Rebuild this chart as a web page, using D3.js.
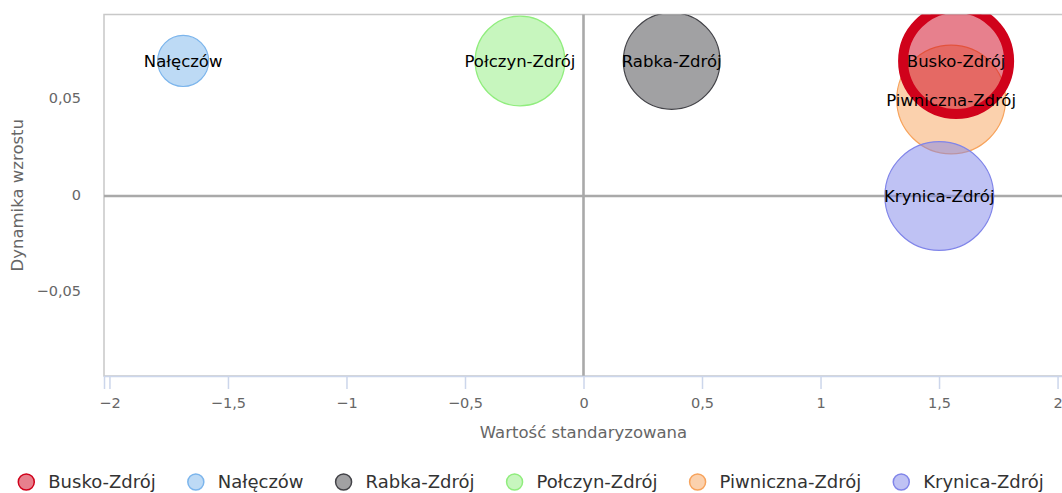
<!DOCTYPE html>
<html>
<head>
<meta charset="utf-8">
<script src="https://cdn.jsdelivr.net/npm/d3@7"></script>
<style>
  html, body { margin: 0; padding: 0; background: #fff; }
  svg { display: block; font-family: "DejaVu Sans", sans-serif; }
</style>
</head>
<body>
<svg id="chart" width="1062" height="493"></svg>
<script>
// ---- data ----
const cities   = ["Busko-Zdrój", "Nałęczów", "Rabka-Zdrój", "Połczyn-Zdrój", "Piwniczna-Zdrój", "Krynica-Zdrój"];
const xValues  = [1.572, -1.689, 0.372, -0.268, 1.551, 1.501];   // Wartość standaryzowana
const yValues  = [0.07, 0.07, 0.07, 0.07, 0.05, 0.0];            // Dynamika wzrostu
const zValues  = [95, 22, 79, 68, 100, 100];                      // bubble size
const colors   = ["#d0021b", "#7cb5ec", "#434348", "#90ed7d", "#f7a35c", "#8085e9"];
const xTicks   = [-2, -1.5, -1, -0.5, 0, 0.5, 1, 1.5, 2];
const yTicks   = [-0.05, 0, 0.05];
const xTitle   = "Wartość standaryzowana";
const yTitle   = "Dynamika wzrostu";

// ---- layout ----
const W = 1062, H = 493;
const plot = { left: 104, top: 14.5, right: 1063, bottom: 376 };
const svg = d3.select("#chart");

const x = d3.scaleLinear().domain([-2.023, 2.023]).range([plot.left, plot.right]);
const y = d3.scaleLinear().domain([-0.0933, 0.0941]).range([plot.bottom, plot.top]);
const r = d3.scaleSqrt().domain([0, 100]).range([0, 54.4]);

const fmt = v => {
  let s = d3.format("")(+v.toFixed(3)).replace(".", ",");
  return s.replace("-", "\u2212");
};

// clip
svg.append("defs").append("clipPath").attr("id", "clip")
  .append("rect").attr("x", plot.left).attr("y", plot.top)
  .attr("width", plot.right - plot.left).attr("height", plot.bottom - plot.top);

// plot border
svg.append("rect")
  .attr("x", plot.left).attr("y", plot.top)
  .attr("width", plot.right - plot.left).attr("height", plot.bottom - plot.top)
  .attr("fill", "none").attr("stroke", "#c8c8c8").attr("stroke-width", 1.5);

// zero lines
svg.append("line")
  .attr("x1", x(0)).attr("x2", x(0)).attr("y1", plot.top).attr("y2", plot.bottom)
  .attr("stroke", "#a9a9a9").attr("stroke-width", 2.6);
svg.append("line")
  .attr("x1", plot.left).attr("x2", plot.right).attr("y1", y(0)).attr("y2", y(0))
  .attr("stroke", "#a9a9a9").attr("stroke-width", 2.6);

// x axis
const xAxis = d3.axisBottom(x).tickValues(xTicks).tickSize(13).tickPadding(6).tickFormat(fmt);
const gx = svg.append("g").attr("transform", `translate(0,${plot.bottom})`).call(xAxis);
gx.select(".domain").attr("stroke", "#ccd6eb").attr("stroke-width", 1.5);
gx.selectAll(".tick line").attr("stroke", "#ccd6eb").attr("stroke-width", 1.5);
gx.selectAll(".tick text").attr("fill", "#666").attr("font-size", "14.5px")
  .attr("font-family", "DejaVu Sans").attr("dy", "0.9em");

// y axis (labels only)
const yAxis = d3.axisLeft(y).tickValues(yTicks).tickSize(0).tickPadding(23).tickFormat(fmt);
const gy = svg.append("g").attr("transform", `translate(${plot.left},0)`).call(yAxis);
gy.select(".domain").remove();
gy.selectAll(".tick text").attr("fill", "#666").attr("font-size", "14.5px")
  .attr("font-family", "DejaVu Sans").attr("dy", "0.22em");

// axis titles
svg.append("text").attr("x", x(0)).attr("y", 432).attr("text-anchor", "middle")
  .attr("dominant-baseline", "central")
  .attr("fill", "#666").attr("font-size", "16.5px").text(xTitle);
svg.append("text").attr("transform", `translate(17.5,${(plot.top + plot.bottom) / 2}) rotate(-90)`)
  .attr("text-anchor", "middle").attr("dominant-baseline", "central")
  .attr("fill", "#666").attr("font-size", "16.5px").text(yTitle);

// bubbles
const data = cities.map((c, i) => ({ name: c, x: xValues[i], y: yValues[i], z: zValues[i], color: colors[i], i }));
const drawOrder = data.slice(1).concat([data[0]]); // highlighted Busko-Zdrój on top
const gb = svg.append("g").attr("clip-path", "url(#clip)");
gb.selectAll("circle").data(drawOrder).join("circle")
  .attr("cx", d => x(d.x)).attr("cy", d => y(d.y)).attr("r", d => r(d.z))
  .attr("fill", d => d.color).attr("fill-opacity", 0.5)
  .attr("stroke", d => d.color)
  .attr("stroke-width", d => d.i === 0 ? 10 : 1.2);

// labels
svg.append("g").selectAll("text").data(data).join("text")
  .attr("x", d => x(d.x)).attr("y", d => y(d.y))
  .attr("text-anchor", "middle").attr("dy", "0.36em")
  .attr("fill", "#000").attr("font-size", "16.5px")
  .text(d => d.name);

// legend
const lg = svg.append("g");
const items = lg.selectAll("g").data(data).join("g");
items.append("circle").attr("r", 8)
  .attr("fill", d => d.color).attr("fill-opacity", 0.5)
  .attr("stroke", d => d.color).attr("stroke-width", 1.5);
items.append("text").attr("x", 22).attr("dy", "0.36em")
  .attr("fill", "#333").attr("font-size", "18px").text(d => d.name);
let cx = 0;
const pos = [];
items.each(function () {
  const tw = d3.select(this).select("text").node().getComputedTextLength();
  pos.push(cx);
  cx += 22 + tw + 40;
});
const totalW = cx - 40 + 8;
const startX = W / 2 - totalW / 2 + 8;
items.attr("transform", (d, i) => `translate(${startX + pos[i]},482)`);
</script>
</body>
</html>
